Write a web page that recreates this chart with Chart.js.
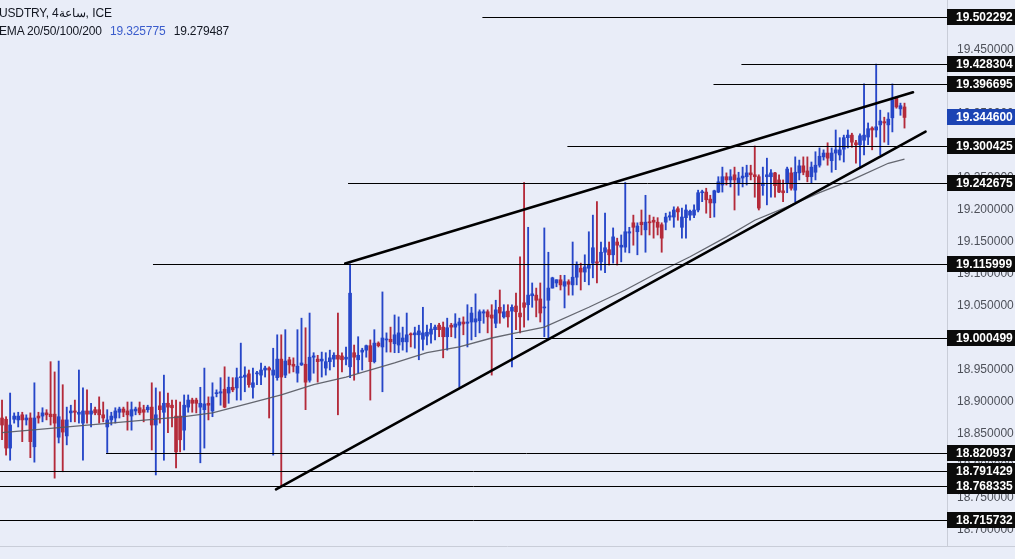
<!DOCTYPE html>
<html><head><meta charset="utf-8">
<script src="https://cdn.jsdelivr.net/npm/chart.js@4.4.1/dist/chart.umd.min.js"></script>
<style>
html,body{margin:0;padding:0;background:#e9edf8;overflow:hidden;}
#wrap{position:relative;width:1015px;height:559px;}
canvas{display:block}
#hdr{position:absolute;left:-1px;top:4px;font:12px "Liberation Sans",Arial,sans-serif;color:#131722;line-height:18px;white-space:nowrap;pointer-events:none;letter-spacing:-0.15px}
#hdr .v{margin-left:5px}
#hdr .blue{color:#3a5ccc}
</style></head><body>
<div id="wrap"><canvas id="c" width="1015" height="559"></canvas>
<div id="hdr"><div>USDTRY, 4ساعة, ICE</div><div>EMA 20/50/100/200 <span class="v blue">19.325775</span> <span class="v">19.279487</span></div></div>
</div>
<script>
// ---- data ----
const candleOpen = [18.875,18.873,18.828,18.873,18.872,18.880,18.872,18.875,18.830,18.878,18.878,18.883,18.881,18.881,18.845,18.872,18.847,18.883,18.886,18.881,18.867,18.886,18.881,18.888,18.888,18.880,18.861,18.872,18.875,18.884,18.889,18.886,18.878,18.886,18.891,18.888,18.888,18.892,18.864,18.894,18.884,18.898,18.895,18.878,18.878,18.856,18.892,18.903,18.903,18.892,18.888,18.898,18.886,18.913,18.914,18.920,18.914,18.923,18.922,18.938,18.939,18.944,18.923,18.944,18.942,18.950,18.953,18.942,18.938,18.967,18.942,18.966,18.959,18.945,18.958,18.959,18.934,18.970,18.967,18.964,18.953,18.963,18.967,18.973,18.972,18.967,18.955,18.977,18.966,18.978,18.981,18.988,18.963,18.992,18.986,18.997,18.998,18.991,18.989,18.994,18.994,19.006,19.005,19.005,18.998,19.003,19.006,19.013,19.020,19.017,19.002,19.020,19.017,19.020,19.025,19.023,19.025,19.025,19.027,19.039,19.041,19.036,19.023,19.048,19.033,19.042,19.042,19.050,19.039,19.055,19.052,19.066,19.067,19.061,19.047,19.059,19.078,19.086,19.091,19.081,19.088,19.083,19.095,19.109,19.103,19.109,19.117,19.119,19.119,19.134,19.138,19.130,19.150,19.142,19.142,19.164,19.180,19.166,19.181,19.169,19.181,19.184,19.181,19.177,19.181,19.189,19.189,19.202,19.173,19.188,19.192,19.192,19.200,19.227,19.228,19.217,19.211,19.228,19.239,19.252,19.247,19.255,19.242,19.250,19.252,19.258,19.255,19.252,19.238,19.252,19.252,19.258,19.247,19.230,19.242,19.258,19.231,19.258,19.269,19.261,19.252,19.259,19.270,19.283,19.289,19.277,19.289,19.286,19.295,19.313,19.317,19.305,19.302,19.309,19.314,19.328,19.325,19.333,19.338,19.333,19.344,19.375,19.358,19.361];
const candleHigh = [18.903,18.877,18.914,18.883,18.884,18.884,18.880,18.883,18.930,18.884,18.891,18.888,18.963,18.947,18.964,18.927,18.892,18.895,18.903,18.950,18.922,18.919,18.898,18.892,18.908,18.900,18.888,18.884,18.891,18.892,18.892,18.900,18.900,18.892,18.900,18.895,18.895,18.930,18.922,18.916,18.942,18.914,18.903,18.903,18.900,18.911,18.911,18.906,18.906,18.923,18.953,18.908,18.930,18.919,18.938,18.955,18.939,18.938,18.953,18.992,18.955,18.950,18.953,18.948,18.961,18.956,18.955,18.984,19.005,19.005,19.013,18.970,18.969,19.013,19.031,19.016,19.039,18.977,18.973,18.978,18.977,18.981,18.977,19.039,18.977,18.986,19.116,18.989,19.002,18.984,18.989,18.997,19.013,18.994,19.072,19.008,19.017,19.036,19.033,19.017,19.039,19.008,19.017,19.020,19.048,19.020,19.023,19.020,19.023,19.025,19.031,19.023,19.038,19.031,19.033,19.052,19.048,19.069,19.044,19.044,19.044,19.052,19.059,19.075,19.052,19.052,19.052,19.070,19.127,19.243,19.173,19.086,19.078,19.086,19.172,19.134,19.095,19.091,19.098,19.098,19.091,19.150,19.119,19.117,19.130,19.166,19.192,19.213,19.150,19.195,19.150,19.172,19.156,19.161,19.243,19.173,19.192,19.180,19.200,19.223,19.192,19.189,19.188,19.180,19.195,19.197,19.205,19.205,19.203,19.208,19.200,19.208,19.231,19.231,19.234,19.223,19.231,19.252,19.267,19.258,19.263,19.267,19.259,19.267,19.270,19.270,19.300,19.255,19.267,19.281,19.263,19.259,19.255,19.247,19.267,19.266,19.283,19.278,19.283,19.283,19.275,19.291,19.297,19.294,19.305,19.297,19.325,19.313,19.317,19.325,19.320,19.309,19.319,19.397,19.336,19.330,19.428,19.356,19.345,19.352,19.397,19.377,19.367,19.367];
const candleLow = [18.841,18.817,18.809,18.867,18.861,18.838,18.864,18.813,18.806,18.867,18.869,18.872,18.864,18.781,18.836,18.791,18.833,18.869,18.869,18.867,18.809,18.867,18.861,18.880,18.867,18.869,18.821,18.864,18.867,18.875,18.877,18.856,18.856,18.880,18.880,18.869,18.884,18.825,18.786,18.867,18.809,18.852,18.861,18.797,18.822,18.825,18.884,18.884,18.883,18.805,18.828,18.872,18.877,18.908,18.895,18.891,18.898,18.916,18.903,18.903,18.916,18.923,18.906,18.927,18.927,18.939,18.875,18.817,18.934,18.768,18.938,18.945,18.947,18.931,18.957,18.888,18.931,18.945,18.931,18.939,18.942,18.950,18.955,18.880,18.947,18.958,18.938,18.934,18.945,18.950,18.970,18.903,18.961,18.986,18.916,18.978,18.978,18.977,18.977,18.981,18.978,18.986,18.984,18.966,18.981,18.989,18.992,18.997,19.002,18.969,18.981,19.002,19.000,18.923,19.005,18.986,18.997,19.002,19.008,19.023,19.008,18.942,19.016,19.023,19.031,19.017,18.955,19.013,19.008,19.017,19.028,19.048,19.033,19.025,19.002,19.0005,19.078,19.080,19.075,19.047,19.067,19.067,19.083,19.075,19.088,19.083,19.094,19.086,19.106,19.102,19.114,19.117,19.114,19.119,19.134,19.133,19.145,19.130,19.161,19.134,19.161,19.156,19.161,19.134,19.169,19.184,19.173,19.184,19.156,19.156,19.184,19.188,19.197,19.213,19.195,19.188,19.189,19.227,19.228,19.239,19.236,19.200,19.223,19.236,19.239,19.247,19.220,19.200,19.223,19.208,19.220,19.220,19.227,19.213,19.227,19.231,19.213,19.247,19.255,19.244,19.242,19.247,19.267,19.278,19.270,19.259,19.263,19.278,19.275,19.297,19.298,19.273,19.267,19.286,19.302,19.294,19.314,19.286,19.306,19.302,19.322,19.359,19.348,19.328];
const candleClose = [18.864,18.828,18.864,18.878,18.878,18.872,18.875,18.838,18.875,18.875,18.883,18.880,18.877,18.867,18.877,18.853,18.872,18.886,18.884,18.884,18.886,18.881,18.886,18.883,18.880,18.875,18.872,18.878,18.886,18.889,18.884,18.880,18.888,18.889,18.883,18.884,18.892,18.864,18.880,18.888,18.898,18.892,18.891,18.822,18.841,18.895,18.903,18.898,18.898,18.898,18.897,18.895,18.908,18.914,18.916,18.892,18.923,18.919,18.938,18.939,18.942,18.927,18.930,18.945,18.950,18.953,18.950,18.950,18.967,18.939,18.964,18.958,18.956,18.956,18.961,18.931,18.970,18.972,18.963,18.967,18.963,18.969,18.973,18.967,18.966,18.970,19.070,18.970,18.973,18.981,18.988,18.963,18.992,18.988,19.000,18.998,18.994,19.005,19.008,19.000,19.005,19.005,19.008,19.011,19.008,19.009,19.014,19.017,19.013,19.002,19.016,19.017,19.022,19.025,19.022,19.025,19.039,19.030,19.041,19.041,19.033,19.031,19.044,19.039,19.041,19.033,19.048,19.041,19.033,19.048,19.067,19.069,19.059,19.039,19.048,19.078,19.094,19.091,19.083,19.088,19.084,19.095,19.114,19.103,19.111,19.114,19.141,19.117,19.134,19.141,19.130,19.158,19.145,19.145,19.166,19.166,19.173,19.175,19.177,19.181,19.180,19.181,19.173,19.156,19.189,19.191,19.200,19.197,19.189,19.200,19.198,19.200,19.227,19.228,19.216,19.211,19.230,19.244,19.252,19.247,19.252,19.247,19.250,19.253,19.258,19.255,19.252,19.203,19.242,19.255,19.258,19.238,19.228,19.227,19.264,19.234,19.259,19.269,19.259,19.252,19.267,19.270,19.284,19.289,19.281,19.289,19.294,19.294,19.313,19.317,19.306,19.302,19.316,19.317,19.327,19.325,19.330,19.339,19.336,19.342,19.372,19.361,19.363,19.3446];
const candleLabels = candleOpen.map((_, i) => 'bar ' + (i + 1));

// EMA (grey line) sampled at candle positions
const emaIdx = [0,45,52,61,69,77,85,97,105,113,121,127,134,145,154,162,170,179,186,194,202,210,219,223];
const emaVal = [18.852,18.877,18.883,18.898,18.911,18.927,18.939,18.961,18.977,18.986,19.000,19.008,19.017,19.048,19.075,19.102,19.127,19.158,19.184,19.205,19.227,19.247,19.273,19.2795];

// horizontal price levels and the candle index where each drawn line starts (null = left edge)
const levelValues = [19.502292,19.428304,19.396695,19.300425,19.242675,19.115999,19.000499,18.820937,18.791429,18.768335,18.715732];
const levelStart  = [118.7,182.7,175.8,139.7,85.5,37.3,126.8,25.7,null,null,null];
const lastPrice = 19.3446;

// trend lines (candle index, price)
const trendStartIdx = [84.8, 67.7];
const trendStartVal = [19.1165, 18.7636];
const trendEndIdx   = [225.1, 228.2];
const trendEndVal   = [19.3839, 19.3223];

const yMin = 18.675, yMax = 19.528125, yStep = 0.05;
const padSlots = 10;

// ---- chart ----
const UP = '#2646c8', DOWN = '#b42a3a';
const labels = candleLabels.concat(Array(padSlots).fill(''));
const colors = candleOpen.map((o, i) => candleClose[i] >= o ? UP : DOWN);
const emaData = labels.map(() => null);
emaIdx.forEach((ix, k) => { emaData[ix] = emaVal[k]; });

const overlay = {
  id: 'overlay',
  afterDatasetsDraw(chart) {
    const {ctx, chartArea, scales: {x, y}} = chart;
    ctx.save();
    ctx.beginPath();
    ctx.rect(chartArea.left, chartArea.top, chartArea.right - chartArea.left, chartArea.bottom - chartArea.top);
    ctx.clip();
    ctx.strokeStyle = '#000';
    ctx.lineWidth = 1;
    levelValues.forEach((v, k) => {
      const py = Math.round(y.getPixelForValue(v)) + 0.5;
      const sx = levelStart[k] === null ? chartArea.left : x.getPixelForValue(levelStart[k]);
      ctx.beginPath(); ctx.moveTo(sx, py); ctx.lineTo(chartArea.right, py); ctx.stroke();
    });
    ctx.lineWidth = 2.6;
    ctx.lineCap = 'round';
    trendStartIdx.forEach((s, k) => {
      ctx.beginPath();
      ctx.moveTo(x.getPixelForValue(s), y.getPixelForValue(trendStartVal[k]));
      ctx.lineTo(x.getPixelForValue(trendEndIdx[k]), y.getPixelForValue(trendEndVal[k]));
      ctx.stroke();
    });
    ctx.restore();
  },
  afterDraw(chart) {
    const {ctx, chartArea, scales: {y}} = chart;
    ctx.save();
    ctx.strokeStyle = '#c9cdd8'; ctx.lineWidth = 1;
    ctx.beginPath(); ctx.moveTo(0, Math.round(chartArea.bottom) + 0.5); ctx.lineTo(chart.width, Math.round(chartArea.bottom) + 0.5); ctx.stroke();
    const drawBox = (v, bg) => {
      const py = y.getPixelForValue(v);
      const top = Math.round(py - 8);
      ctx.fillStyle = bg;
      ctx.fillRect(chartArea.right, top, chart.width - chartArea.right, 16);
      ctx.fillStyle = '#ffffff';
      ctx.font = 'bold 12px "Liberation Sans", Arial, sans-serif';
      ctx.textBaseline = 'middle';
      ctx.textAlign = 'left';
      ctx.fillText(v.toFixed(6), chartArea.right + 9, top + 8.5);
    };
    levelValues.forEach(v => drawBox(v, '#0b0b0b'));
    drawBox(lastPrice, '#1c44b4');
    ctx.restore();
  }
};

new Chart(document.getElementById('c'), {
  type: 'bar',
  data: {
    labels,
    datasets: [
      { type: 'line', data: emaData, spanGaps: true, borderColor: 'rgba(85,88,96,0.9)', borderWidth: 1.3, pointRadius: 0, tension: 0, order: 1 },
      { data: candleOpen.map((o, i) => [o, candleClose[i]]), backgroundColor: colors, barThickness: 3, minBarLength: 1, grouped: false, order: 2 },
      { data: candleLow.map((l, i) => [l, candleHigh[i]]), backgroundColor: colors, barThickness: 1.2, grouped: false, order: 3 }
    ]
  },
  options: {
    responsive: false,
    animation: false,
    devicePixelRatio: 1,
    layout: { padding: { left: 0, right: 0, top: 0, bottom: 13 } },
    plugins: { legend: { display: false }, tooltip: { enabled: false }, title: { display: false } },
    scales: {
      x: { display: false, offset: true, grid: { display: false } },
      y: {
        position: 'right', min: yMin, max: yMax,
        grid: { display: false, drawTicks: false },
        border: { display: true, color: '#c9cdd8' },
        ticks: { stepSize: yStep, includeBounds: false, padding: 10, color: '#4d5059',
                 font: { family: 'Liberation Sans', size: 12 }, callback: v => v.toFixed(6) },
        afterFit(s) { s.width = 68; s.paddingTop = 0; s.paddingBottom = 0; }
      }
    }
  },
  plugins: [overlay]
});
</script>
</body></html>
